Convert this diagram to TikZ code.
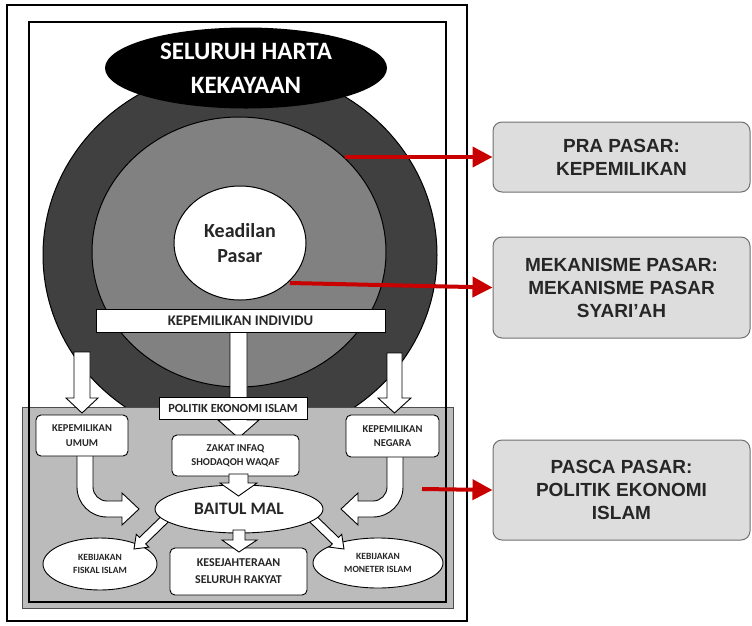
\documentclass[tikz,border=0pt]{standalone}
\usepackage{fontspec}
\setmainfont{Carlito}
\newfontfamily\arialfont{Liberation Sans}
\usetikzlibrary{shapes.geometric,arrows.meta}
\definecolor{darkring}{HTML}{404040}
\definecolor{midring}{HTML}{818181}
\definecolor{panelgray}{HTML}{BBBBBB}
\definecolor{txtc}{HTML}{262626}
\definecolor{boxfill}{HTML}{DDDDDD}
\definecolor{boxline}{HTML}{707070}
\definecolor{redc}{HTML}{C80000}
\begin{document}
\begin{tikzpicture}[x=1pt,y=-1pt,
  wbox/.style={draw=black,line width=0.9pt,fill=white,rounded corners=5pt,inner sep=0pt,align=center,text=txtc,font=\bfseries\fontsize{10.5}{14.5}\selectfont},
  flatbox/.style={draw=black,line width=0.7pt,fill=white,inner sep=0pt,text=txtc},
  well/.style={ellipse,draw=black,line width=0.9pt,fill=white,inner sep=0pt,align=center,text=txtc,font=\bfseries\fontsize{9.5}{13}\selectfont},
  rbox/.style={draw=boxline,line width=1pt,fill=boxfill,rounded corners=9pt,minimum width=257pt,inner sep=0pt,align=center,text=txtc,font=\arialfont\bfseries\fontsize{19}{23}\selectfont},
  redarrow/.style={draw=redc,line width=4pt,-{Triangle[length=20pt,width=20pt]}},
  hollow/.style={draw=black,line width=0.9pt,fill=white,line join=miter}]
\useasboundingbox (0,0) rectangle (752,625);
\fill[white] (0,0) rectangle (752,625);
% rings
\filldraw[fill=darkring,draw=black,line width=1pt] (240,255) ellipse [x radius=197,y radius=187];
\filldraw[fill=midring,draw=black,line width=1pt] (239,252) ellipse [x radius=147,y radius=135];
\node[ellipse,draw=black,line width=1pt,fill=white,minimum width=132pt,minimum height=114pt,inner sep=0pt,align=center,text=txtc,font=\bfseries\fontsize{20}{25}\selectfont] (keadilan) at (240,243) {Keadilan\\Pasar};
\node[ellipse,fill=black,minimum width=282pt,minimum height=81pt,inner sep=0pt,align=center,text=white,font=\bfseries\fontsize{25}{34}\selectfont] (harta) at (246,68) {SELURUH HARTA\\KEKAYAAN};
% panel
\filldraw[fill=panelgray,draw=black!70,line width=0.8pt] (22,407) rectangle (453,608);
% hollow arrows
\filldraw[hollow] (230,330) -- (230,420) -- (218,420) -- (238.5,438) -- (259,420) -- (247,420) -- (247,330) -- cycle;
\filldraw[hollow] (74,352) -- (74,398) -- (66,398) -- (82,413) -- (98,398) -- (90,398) -- (90,352) -- cycle;
\filldraw[hollow] (387,353) -- (387,398) -- (378,398) -- (394.5,413) -- (411,398) -- (402,398) -- (402,353) -- cycle;
\filldraw[hollow] (77,454) -- (77,487) .. controls (77,503.6) and (90.4,517) .. (107,517) -- (122,517) -- (122,525) -- (139,509) -- (122,493) -- (122,501) -- (107,501) .. controls (99.3,501) and (93,494.7) .. (93,487) -- (93,454) -- cycle;
\filldraw[hollow] (403,454) -- (403,487) .. controls (403,503.6) and (389.6,517) .. (373,517) -- (358,517) -- (358,525) -- (341,509) -- (358,493) -- (358,501) -- (373,501) .. controls (380.7,501) and (387,494.7) .. (387,487) -- (387,454) -- cycle;
% boxes
\node[flatbox,minimum width=289pt,minimum height=23pt,font=\bfseries\fontsize{14.7}{16}\selectfont] (individu) at (240.5,320.5) {KEPEMILIKAN INDIVIDU};
\node[flatbox,minimum width=148pt,minimum height=22pt,font=\bfseries\fontsize{12.4}{14}\selectfont] (politik) at (233,408) {POLITIK EKONOMI ISLAM};
\node[wbox,minimum width=92pt,minimum height=41pt] (umum) at (82,435.5) {KEPEMILIKAN\\UMUM};
\node[wbox,minimum width=93pt,minimum height=42pt] (negara) at (392.5,436) {KEPEMILIKAN\\NEGARA};
\node[wbox,minimum width=127pt,minimum height=41pt] (zakat) at (235.5,455.5) {ZAKAT INFAQ\\SHODAQOH WAQAF};
\node[well,minimum width=114pt,minimum height=52pt] (fiskal) at (100,564) {KEBIJAKAN\\FISKAL ISLAM};
\node[well,minimum width=130pt,minimum height=50pt] (moneter) at (378,563) {KEBIJAKAN\\MONETER ISLAM};
\node[wbox,minimum width=137pt,minimum height=47pt,font=\bfseries\fontsize{12}{17}\selectfont] (sejahtera) at (238.5,571.5) {KESEJAHTERAAN\\SELURUH RAKYAT};
% diagonal arrows
\filldraw[hollow] (164.9,512.8) -- (139.5,537.4) -- (136.3,534.2) -- (134,549) -- (148.9,547.1) -- (145.7,543.9) -- (171.1,519.2) -- cycle;
\filldraw[hollow] (313.1,512.8) -- (338.5,537.4) -- (341.7,534.2) -- (344,549) -- (329.1,547.1) -- (332.3,543.9) -- (306.9,519.2) -- cycle;
\node[well,minimum width=168pt,minimum height=48pt,font=\bfseries\fontsize{17.5}{20}\selectfont] (baitul) at (239,509) {BAITUL MAL};
\filldraw[hollow] (229,474) -- (229,483) -- (220,483) -- (238.5,496) -- (257,483) -- (248,483) -- (248,474) -- cycle;
\filldraw[hollow] (233,530) -- (233,540) -- (222,540) -- (239,552) -- (257,540) -- (245,540) -- (245,530) -- cycle;
% frames
\draw[line width=1.5pt] (7,5) rectangle (467,621);
\draw[line width=2pt] (29,22) rectangle (446,602);
% right boxes
\node[rbox,minimum height=70pt] (pra) at (621.5,157) {PRA PASAR:\\KEPEMILIKAN};
\node[rbox,minimum height=101pt] (mekanisme) at (621.5,287.5) {MEKANISME PASAR:\\MEKANISME PASAR\\SYARI’AH};
\node[rbox,minimum height=100pt] (pasca) at (621.5,490) {PASCA PASAR:\\POLITIK EKONOMI\\ISLAM};
% red arrows
\coordinate (r1) at (345,157);
\coordinate (r2) at (290,283);
\coordinate (r3) at (422,489);
\draw[redarrow] (r1) -- (pra.west);
\draw[redarrow] (r2) -- (mekanisme.west);
\draw[redarrow] (r3) -- (pasca.west);
\end{tikzpicture}
\end{document}
